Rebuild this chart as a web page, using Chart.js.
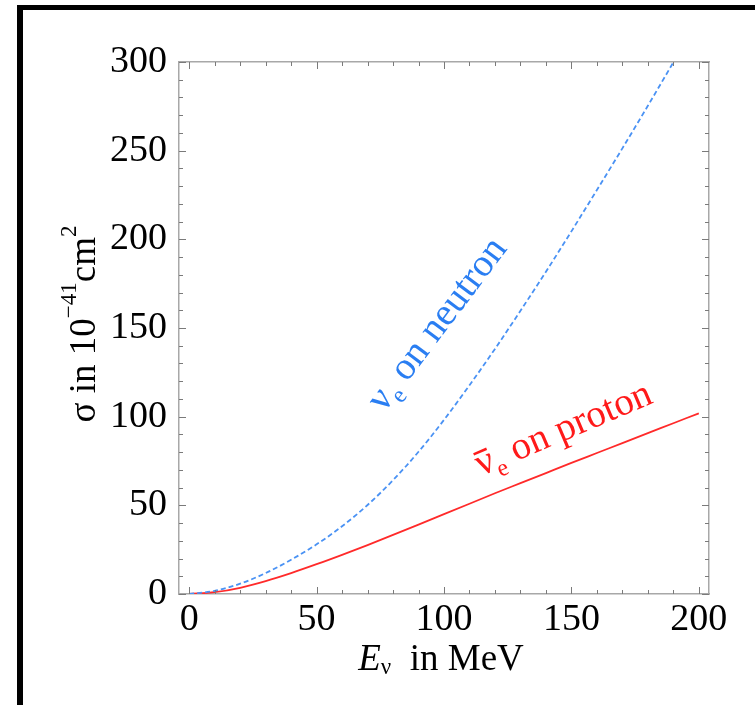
<!DOCTYPE html>
<html>
<head>
<meta charset="utf-8">
<script src="https://cdn.jsdelivr.net/npm/chart.js@4"></script>
<style>
    body { margin: 0; background: #fff; }
    #frame { position: absolute; left: 17px; top: 5px; width: 760px; height: 720px;
             border-top: 5px solid #000; border-left: 6px solid #000; }
    #wrap { position: absolute; left: 0; top: 0; width: 755px; height: 705px; }
</style>
</head>
<body>
<div id="frame"></div>
<div id="wrap"><canvas id="myChart" width="755" height="705"></canvas></div>
<script>
// cross sections (10^-41 cm^2 vs MeV)
const neutronE = [0, 10, 20, 30, 40, 50, 60, 70, 80, 90, 100, 110, 120, 130, 140, 150, 160, 170, 180, 190];
const neutronSigma = [0, 1.8, 5.8, 11.8, 19.3, 28, 38.2, 50.2, 64.2, 80.2, 98.2, 117.7, 138.2, 159.7, 181.7, 204.5, 227.8, 251.3, 275.3, 299.8];
const protonE = [0, 10, 20, 30, 40, 50, 60, 70, 80, 90, 100, 110, 120, 130, 140, 150, 160, 170, 180, 190, 200];
const protonSigma = [0, 1, 3.5, 7.3, 11.8, 16.8, 22.1, 27.6, 33.3, 39.1, 45, 50.9, 56.8, 62.5, 68.2, 73.9, 79.5, 85.1, 90.7, 96.3, 101.9];
const xTicks = [0, 50, 100, 150, 200];
const yTicks = [0, 50, 100, 150, 200, 250, 300];

const serif = "'Liberation Serif', 'DejaVu Serif', serif";
const blue = '#4a92f4';
const blueText = '#2a7ef2';
const red = '#ff2a2a';
const redText = '#ff1a1a';

// draw text with sub/superscript pieces
function drawRich(ctx, parts, size, x, y, angle, align, color) {
    const fontFor = p => (p.italic ? 'italic ' : '') + Math.round(p.s ? size * 0.62 : size) + 'px ' + serif;
    let total = 0;
    parts.forEach(p => { ctx.font = fontFor(p); p.w = ctx.measureText(p.t).width; total += p.w; });
    ctx.save();
    ctx.translate(x, y);
    ctx.rotate(angle * Math.PI / 180);
    ctx.fillStyle = color;
    ctx.textBaseline = align === 'center' ? 'middle' : 'alphabetic';
    let cx = align === 'center' ? -total / 2 : 0;
    parts.forEach(p => {
        ctx.font = fontFor(p);
        let dy = 0;
        if (p.s === 'sub') dy = size * 0.22;
        if (p.s === 'sup') dy = -size * 0.4;
        ctx.fillText(p.t, cx, dy);
        if (p.bar) {
            ctx.fillRect(cx + p.w * 0.1, dy - size * 0.62, p.w * 0.8, 2.5);
        }
        cx += p.w;
    });
    ctx.restore();
}

const frameTicks = {
    id: 'frameTicks',
    afterDatasetsDraw(chart) {
        const { ctx, chartArea: a, scales } = chart;
        ctx.save();
        ctx.strokeStyle = '#7a7a7a';
        ctx.lineWidth = 1;
        for (let v = 0; v <= 200; v += 10) {
            const px = Math.round(scales.x.getPixelForValue(v)) + 0.5;
            const len = v % 50 === 0 ? 7 : 4;
            ctx.beginPath();
            ctx.moveTo(px, a.bottom); ctx.lineTo(px, a.bottom - len);
            ctx.moveTo(px, a.top); ctx.lineTo(px, a.top + len);
            ctx.stroke();
        }
        for (let v = 0; v <= 300; v += 10) {
            const py = Math.round(scales.y.getPixelForValue(v)) + 0.5;
            const len = v % 50 === 0 ? 7 : 4;
            ctx.beginPath();
            ctx.moveTo(a.left, py); ctx.lineTo(a.left + len, py);
            ctx.moveTo(a.right, py); ctx.lineTo(a.right - len, py);
            ctx.stroke();
        }
        ctx.restore();
    },
    afterDraw(chart) {
        const { ctx, chartArea: a, scales } = chart;
        // axis titles
        drawRich(ctx, [{ t: 'σ in 10' }, { t: '−41', s: 'sup' }, { t: 'cm' }, { t: '2', s: 'sup' }],
            37, a.left - 94, (a.top + a.bottom) / 2 - 4, -90, 'center', '#000');
        drawRich(ctx, [{ t: 'E', italic: true }, { t: 'ν', s: 'sub' }, { t: '  in MeV' }],
            37, (a.left + a.right) / 2 - 3, a.bottom + 66, 0, 'center', '#000');
        // curve labels
        drawRich(ctx, [{ t: 'ν' }, { t: 'e', s: 'sub' }, { t: ' on neutron' }],
            39, scales.x.getPixelForValue(76.5), scales.y.getPixelForValue(102), -53, 'left', blueText);
        drawRich(ctx, [{ t: 'ν', bar: true }, { t: 'e', s: 'sub' }, { t: ' on proton' }],
            39, scales.x.getPixelForValue(114.5), scales.y.getPixelForValue(66.5), -23, 'left', redText);
    }
};

const ctx = document.getElementById('myChart').getContext('2d');
const myChart = new Chart(ctx, {
    type: 'line',
    data: {
        datasets: [{
            label: 'νe on neutron',
            data: neutronE.map((e, i) => ({ x: e, y: neutronSigma[i] })),
            borderColor: blue,
            borderWidth: 1.8,
            borderDash: [5, 3],
            pointRadius: 0,
            cubicInterpolationMode: 'monotone',
            fill: false,
        }, {
            label: 'anti-νe on proton',
            data: protonE.map((e, i) => ({ x: e, y: protonSigma[i] })),
            borderColor: red,
            borderWidth: 1.8,
            pointRadius: 0,
            cubicInterpolationMode: 'monotone',
            fill: false,
        }]
    },
    options: {
        responsive: false,
        animation: false,
        layout: { padding: { left: 0, top: 62, right: 46, bottom: 0 } },
        plugins: { legend: { display: false }, tooltip: { enabled: false } },
        scales: {
            x: {
                type: 'linear', position: 'bottom', min: -4, max: 204,
                afterBuildTicks: s => { s.ticks = xTicks.map(v => ({ value: v })); },
                afterFit: s => { s.height = 111; },
                grid: { display: false, drawTicks: false },
                border: { display: true, color: '#a8a8a8', width: 1.5 },
                ticks: { color: '#000', padding: 3, maxRotation: 0, font: { family: serif, size: 38 } },
            },
            x2: {
                type: 'linear', position: 'top', min: -4, max: 204,
                afterFit: s => { s.height = 0; },
                grid: { display: false, drawTicks: false },
                border: { display: true, color: '#a8a8a8', width: 1.5 },
                ticks: { display: false },
            },
            y: {
                type: 'linear', position: 'left', min: 0, max: 300,
                afterBuildTicks: s => { s.ticks = yTicks.map(v => ({ value: v })); },
                afterFit: s => { s.width = 179; },
                grid: { display: false, drawTicks: false },
                border: { display: true, color: '#a8a8a8', width: 1.5 },
                ticks: { color: '#000', padding: 12, font: { family: serif, size: 38 } },
            },
            y2: {
                type: 'linear', position: 'right', min: 0, max: 300,
                afterFit: s => { s.width = 0; },
                grid: { display: false, drawTicks: false },
                border: { display: true, color: '#a8a8a8', width: 1.5 },
                ticks: { display: false },
            },
        },
    },
    plugins: [frameTicks],
});
</script>
</body>
</html>
